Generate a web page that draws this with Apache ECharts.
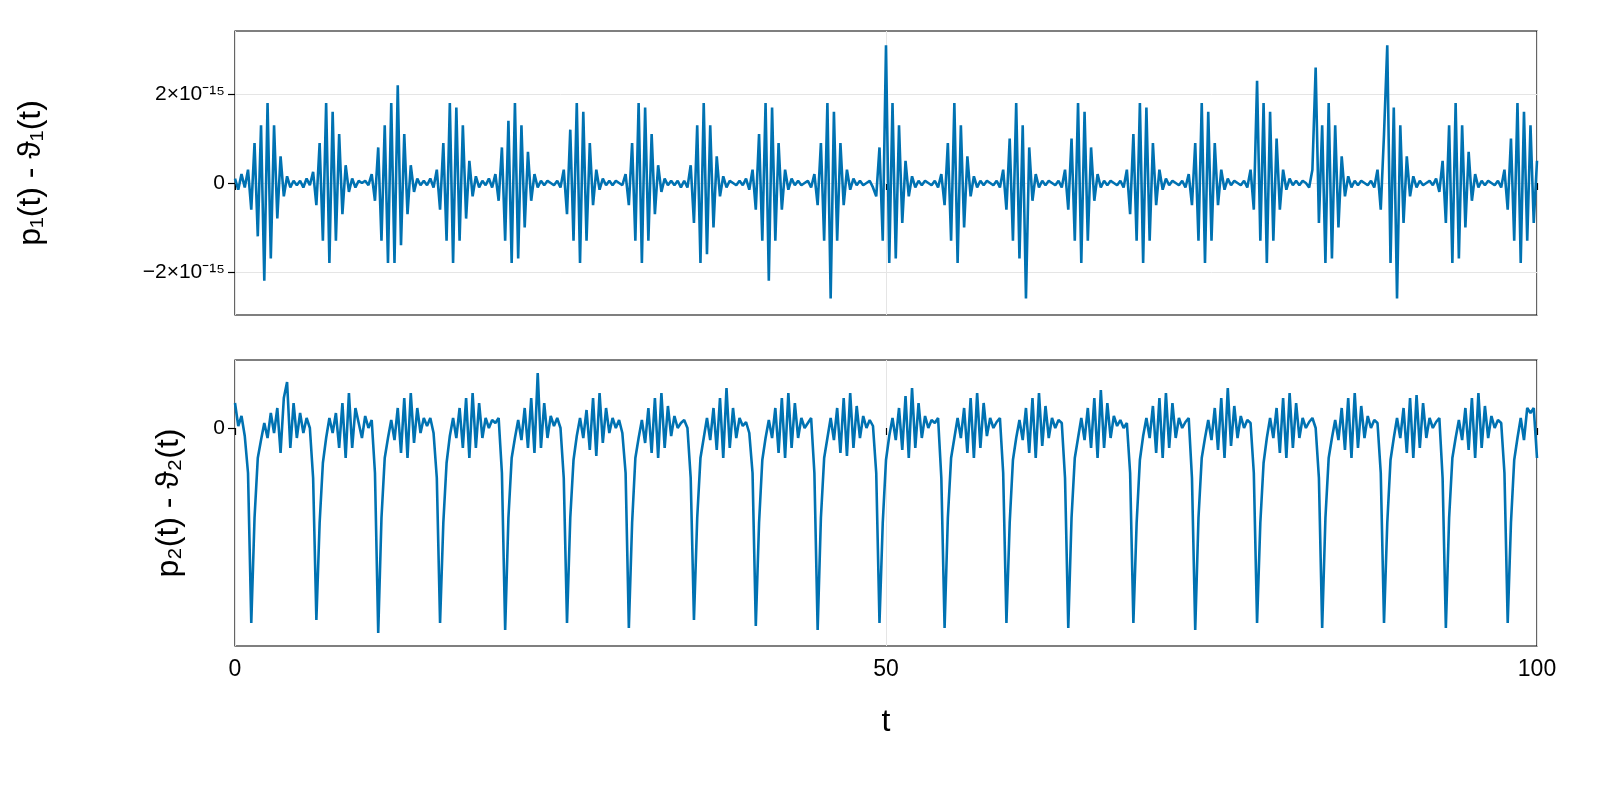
<!DOCTYPE html>
<html><head><meta charset="utf-8">
<script src="https://cdn.jsdelivr.net/npm/echarts@6/dist/echarts.min.js"></script>
<style>html,body{margin:0;padding:0;background:#fff}#c{width:1600px;height:800px}</style>
</head><body><div id="c"></div>
<script>
// sample times: t = 0, 0.25, ..., 100
const tStep = 0.25;
const xTicks = [0, 50, 100];
const topTicks = [-2, 0, 2];   // units of 1e-15
const bottomTicks = [0];
// p1 - theta1, units of 1e-15, rows of 20 samples (5 time units)
const diff1 = [
 0.1,-0.15,0.2,-0.1,0.3,-0.6,0.9,-1.2,1.3,-2.2,1.8,-1.7,1.3,-0.8,0.6,-0.3,0.15,-0.1,0.05,-0.05,
 0.05,-0.1,0.1,-0.05,0.25,-0.5,0.9,-1.3,1.8,-1.8,1.6,-1.3,1.1,-0.7,0.4,-0.2,0.1,-0.1,0.05,0,
 0.05,-0.05,0.2,-0.4,0.8,-1.3,1.3,-1.8,1.8,-1.8,2.2,-1.4,1.1,-0.7,0.4,-0.2,0.1,-0.05,0.05,-0.05,
 0.1,-0.1,0.3,-0.6,0.9,-1.3,1.8,-1.8,1.7,-1.3,1.3,-0.8,0.5,-0.3,0.15,-0.1,0.05,-0.05,0.1,-0.1,
 0.2,-0.4,0.8,-1.3,1.4,-1.8,1.8,-1.7,1.3,-1.0,0.7,-0.4,0.2,-0.1,0.05,-0.05,0.05,0,-0.05,0.05,
 -0.1,0.3,-0.7,1.2,-1.3,1.8,-1.8,1.6,-1.3,0.9,-0.5,0.3,-0.15,0.1,-0.05,0.05,-0.05,0.05,0,-0.05,
 0.2,-0.5,0.9,-1.3,1.8,-1.8,1.7,-1.3,1.1,-0.7,0.4,-0.2,0.1,-0.05,0.05,-0.05,0.05,-0.1,0.05,-0.1,
 0.4,-0.9,1.3,-1.8,1.8,-1.6,1.3,-1.0,0.6,-0.3,0.15,-0.1,0.05,0,-0.05,0.05,-0.05,0.1,-0.15,0.3,
 -0.6,1.1,-1.3,1.8,-2.2,1.7,-1.3,0.9,-0.6,0.3,-0.15,0.1,-0.05,0.05,-0.05,0,0.05,-0.1,0.2,-0.5,
 0.9,-1.3,1.8,-2.6,1.6,-1.3,0.9,-0.5,0.3,-0.15,0.1,-0.05,0.05,-0.05,0,0.05,-0.1,-0.3,0.8,-1.3,
 3.1,-1.8,1.8,-1.7,1.3,-0.9,0.5,-0.3,0.15,-0.1,0.05,-0.05,0.05,0,-0.05,0.05,-0.1,0.2,-0.5,0.9,
 -1.3,1.8,-1.8,1.3,-1.0,0.6,-0.3,0.15,-0.1,0.05,-0.05,0.05,0,-0.05,0.05,-0.1,0.3,-0.6,1.0,-1.3,
 1.8,-1.7,1.3,-2.6,0.8,-0.4,0.2,-0.1,0.05,-0.05,0.05,0,-0.05,0.05,-0.1,0.3,-0.6,1.0,-1.3,1.8,
 -1.8,1.6,-1.3,0.8,-0.4,0.2,-0.1,0.05,-0.05,0.05,0,-0.05,0.05,-0.1,0.3,-0.7,1.1,-1.3,1.8,-1.8,
 1.7,-1.3,0.9,-0.5,0.3,-0.15,0.1,-0.05,0.05,0,-0.05,0.05,-0.1,0.2,-0.5,0.9,-1.3,1.8,-1.8,1.6,
 -1.3,0.9,-0.5,0.3,-0.15,0.1,-0.05,0.05,0,-0.05,0.05,-0.1,0.3,-0.6,2.3,-1.3,1.8,-1.8,1.6,-1.3,
 1.0,-0.6,0.3,-0.15,0.1,-0.05,0.05,-0.05,0.05,0,-0.1,0.3,2.6,-0.9,1.3,-1.8,1.8,-1.7,1.3,-1.0,
 0.6,-0.3,0.15,-0.1,0.05,-0.05,0.05,0,-0.05,0.05,-0.1,0.3,-0.6,1.1,3.1,-1.8,1.7,-2.6,1.3,-0.9,
 0.6,-0.3,0.15,-0.1,0.05,-0.05,0,0.05,-0.05,0.1,-0.2,0.5,-0.9,1.3,-1.8,1.8,-1.7,1.3,-1.0,0.7,
 -0.4,0.2,-0.1,0.05,-0.05,0.05,0,-0.05,0.05,-0.1,0.3,-0.6,1.0,-1.3,1.8,-1.8,1.6,-1.3,1.3,-0.9,
 0.5
];
// p2 - theta2, arbitrary units, rows of 20 samples
const diff2 = [
 0.25,0.02,0.12,-0.08,-0.45,-1.95,-0.9,-0.3,-0.12,0.05,-0.1,0.15,-0.05,0.2,-0.25,0.3,0.46,-0.2,0.25,-0.1,
 0.15,-0.05,0.1,0.0,-0.5,-1.92,-0.95,-0.35,-0.1,0.1,-0.05,0.15,-0.2,0.25,-0.3,0.35,-0.2,0.2,0.05,-0.1,
 0.12,0.0,0.08,-0.45,-2.05,-0.9,-0.3,-0.1,0.08,-0.12,0.2,-0.25,0.3,-0.3,0.35,-0.15,0.2,-0.05,0.1,0.02,
 0.1,-0.05,-0.5,-1.95,-0.95,-0.35,-0.08,0.1,-0.1,0.2,-0.2,0.3,-0.3,0.35,-0.2,0.25,-0.1,0.1,0.0,0.08,
 0.05,0.1,-0.45,-2.02,-0.9,-0.3,-0.1,0.08,-0.12,0.2,-0.2,0.3,-0.25,0.55,-0.2,0.25,-0.1,0.12,0.02,0.1,
 0.0,-0.5,-1.95,-0.9,-0.32,-0.08,0.1,-0.1,0.18,-0.22,0.3,-0.28,0.35,-0.15,0.2,-0.05,0.1,0.0,0.08,-0.05,
 -0.45,-2.0,-0.95,-0.3,-0.1,0.08,-0.15,0.2,-0.25,0.3,-0.3,0.35,-0.2,0.22,-0.08,0.12,0.0,0.05,0.08,0.0,
 -0.5,-1.92,-0.9,-0.3,-0.1,0.1,-0.12,0.2,-0.22,0.3,-0.3,0.4,-0.2,0.2,-0.1,0.1,0.02,0.06,-0.05,-0.45,
 -1.98,-0.95,-0.32,-0.1,0.08,-0.1,0.2,-0.25,0.3,-0.3,0.35,-0.2,0.25,-0.1,0.1,0.0,0.05,0.1,-0.45,-2.02,
 -0.9,-0.3,-0.1,0.1,-0.12,0.2,-0.25,0.3,-0.28,0.35,-0.2,0.22,-0.1,0.12,0.0,0.08,0.02,-0.45,-1.95,-0.95,
 -0.32,-0.08,0.1,-0.12,0.2,-0.22,0.32,-0.3,0.4,-0.2,0.25,-0.1,0.12,0.0,0.08,0.05,0.1,-0.5,-2.0,-0.9,
 -0.3,-0.1,0.1,-0.1,0.2,-0.25,0.3,-0.3,0.35,-0.2,0.25,-0.08,0.1,0.0,0.06,0.1,-0.45,-1.95,-0.95,-0.32,
 -0.1,0.08,-0.12,0.2,-0.25,0.3,-0.3,0.35,-0.18,0.22,-0.1,0.1,0.0,0.08,0.05,-0.5,-2.0,-0.9,-0.3,-0.1,
 0.1,-0.12,0.2,-0.2,0.3,-0.3,0.38,-0.2,0.25,-0.1,0.12,0.02,0.08,0.0,0.05,-0.45,-1.95,-0.95,-0.32,-0.08,
 0.1,-0.1,0.22,-0.25,0.3,-0.3,0.35,-0.2,0.25,-0.1,0.1,0.0,0.06,0.1,-0.5,-2.02,-0.9,-0.3,-0.1,0.08,
 -0.12,0.2,-0.22,0.3,-0.3,0.4,-0.18,0.22,-0.1,0.12,0.0,0.08,0.05,-0.45,-1.95,-0.95,-0.35,-0.1,0.1,-0.1,
 0.2,-0.25,0.3,-0.3,0.35,-0.2,0.25,-0.1,0.1,0.0,0.06,0.1,0.0,-0.5,-2.0,-0.9,-0.3,-0.1,0.08,-0.12,
 0.2,-0.22,0.3,-0.3,0.35,-0.2,0.22,-0.1,0.12,0.0,0.08,0.05,-0.45,-1.95,-0.95,-0.32,-0.1,0.1,-0.1,0.2,
 -0.25,0.3,-0.3,0.33,-0.2,0.25,-0.1,0.1,0.0,0.06,0.1,-0.5,-2.0,-0.9,-0.3,-0.1,0.08,-0.12,0.2,-0.22,
 0.3,-0.3,0.35,-0.2,0.22,-0.1,0.12,0.0,0.08,0.05,-0.45,-1.95,-0.95,-0.32,-0.1,0.1,-0.12,0.2,0.15,0.2,
 -0.3
];
const toPts = arr => arr.map((v, i) => [i * tStep, v]);
const font = 'Liberation Sans, Arial, sans-serif';
const blue = '#0072b2';
const gridC = '#e5e5e5';
const sup = {'-':'⁻','0':'⁰','1':'¹','2':'²','3':'³','4':'⁴','5':'⁵','6':'⁶','7':'⁷','8':'⁸','9':'⁹'};
const fmtTop = v => v === 0 ? '0' : (v < 0 ? '−' : '') + Math.abs(v) + '×10' + '-15'.split('').map(c => sup[c]).join('');
const chart = echarts.init(document.getElementById('c'), null, {renderer: 'canvas'});
const gl = (vals) => vals.map(v => ({yAxis: v}));
chart.setOption({
  animation: false,
  grid: [
    {left: 235, right: 63, top: 31, height: 284, show: true, borderColor: '#000', borderWidth: 1.2, containLabel: false},
    {left: 235, right: 63, top: 360, height: 286, show: true, borderColor: '#000', borderWidth: 1.2, containLabel: false}
  ],
  xAxis: [0, 1].map(g => ({
    type: 'value', gridIndex: g, min: 0, max: 100, interval: 50,
    axisLine: {show: false},
    axisTick: {show: true, length: 7, inside: false, lineStyle: {color: '#000', width: 1.2}},
    axisLabel: {show: g === 1, fontSize: 23, color: '#000', fontFamily: font, margin: 12},
    splitLine: {show: true, lineStyle: {color: gridC, width: 1}},
    name: g === 1 ? 't' : '', nameLocation: 'middle', nameGap: 60,
    nameTextStyle: {fontSize: 32, color: '#000', fontFamily: font}
  })),
  yAxis: [
    {type: 'value', gridIndex: 0, min: -2.97, max: 3.42,
     axisLine: {show: false},
     axisTick: {show: true, length: 7, customValues: topTicks, lineStyle: {color: '#000', width: 1.2}},
     axisLabel: {customValues: topTicks, formatter: fmtTop, fontSize: 21, color: '#000', fontFamily: font, margin: 10},
     splitLine: {show: false},
     name: 'p₁(t) - ϑ₁(t)', nameLocation: 'middle', nameGap: 188,
     nameTextStyle: {fontSize: 32, color: '#000', fontFamily: font}},
    {type: 'value', gridIndex: 1, min: -2.18, max: 0.68,
     axisLine: {show: false},
     axisTick: {show: true, length: 7, customValues: bottomTicks, lineStyle: {color: '#000', width: 1.2}},
     axisLabel: {customValues: bottomTicks, fontSize: 21, color: '#000', fontFamily: font, margin: 10},
     splitLine: {show: false},
     name: 'p₂(t) - ϑ₂(t)', nameLocation: 'middle', nameGap: 50,
     nameTextStyle: {fontSize: 32, color: '#000', fontFamily: font}}
  ],
  series: [
    {type: 'line', xAxisIndex: 0, yAxisIndex: 0, data: toPts(diff1), showSymbol: false,
     lineStyle: {color: blue, width: 2.6}, z: 3,
     markLine: {silent: true, symbol: 'none', label: {show: false}, lineStyle: {color: gridC, type: 'solid', width: 1}, z: 1, data: gl(topTicks)}},
    {type: 'line', xAxisIndex: 1, yAxisIndex: 1, data: toPts(diff2), showSymbol: false,
     lineStyle: {color: blue, width: 2.6}, z: 3}
  ]
});
</script></body></html>
